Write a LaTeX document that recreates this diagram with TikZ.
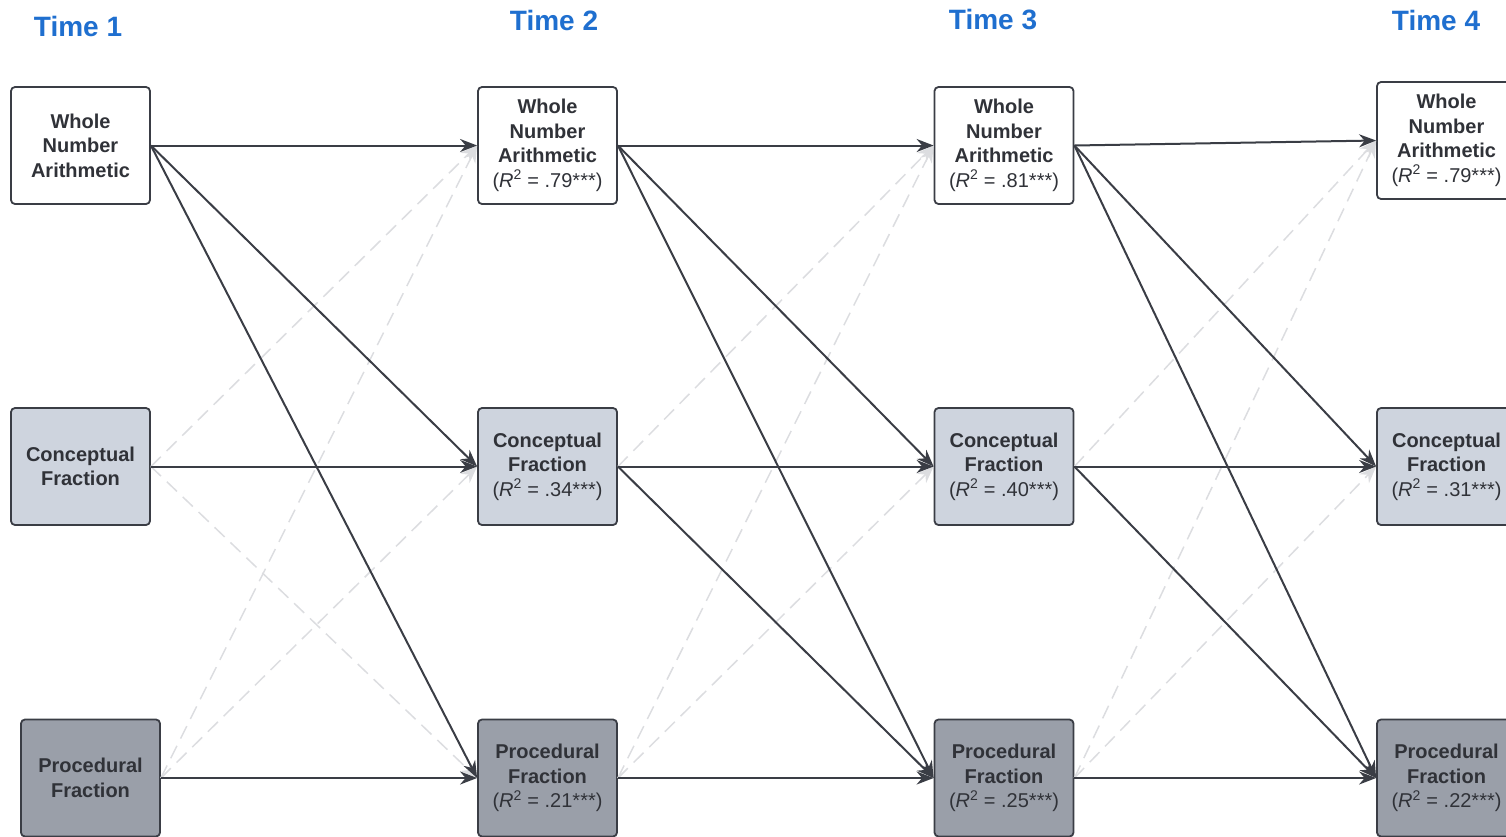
\documentclass[tikz,border=0pt]{standalone}
\usepackage{fontspec}
\setmainfont{Liberation Sans}
\usetikzlibrary{arrows.meta}
\definecolor{edgec}{HTML}{3A3D45}
\definecolor{cfill}{HTML}{CED4DE}
\definecolor{pfill}{HTML}{9A9FA9}
\definecolor{tblue}{HTML}{1F6FCF}
\definecolor{dashc}{HTML}{DCDDE0}
\definecolor{txtc}{HTML}{303238}
\newcommand{\rsq}[1]{(\textit{R}\textsuperscript{2} = .#1***)}
\begin{document}
\begin{tikzpicture}[x=1pt,y=-1pt,
  box/.style={draw=edgec, line width=1.8pt, rounded corners=4pt, minimum width=139pt,
    minimum height=117pt, inner sep=0pt, align=center, text=txtc,
    font=\fontsize{20}{24.5}\selectfont},
  wn/.style={box, fill=white},
  cf/.style={box, fill=cfill},
  pf/.style={box, fill=pfill},
  timelbl/.style={text=tblue, font=\fontsize{28}{30}\selectfont\bfseries},
  sol/.style={draw=edgec, line width=2pt, -{Stealth[length=17pt,width=13pt]}},
  dsh/.style={draw=dashc, line width=1.5pt, dash pattern=on 14pt off 8pt,
    -{Stealth[length=17pt,width=13pt]}}
]
\useasboundingbox (0,0) rectangle (1506,836);

\node[timelbl] (t1) at (78,26) {Time 1};
\node[timelbl] (t2) at (554,20) {Time 2};
\node[timelbl] (t3) at (993,20) {Time 3};
\node[timelbl] (t4) at (1436,20) {Time 4};

\node[wn] (w1) at (80.5,145.5) {\textbf{Whole}\\\textbf{Number}\\\textbf{Arithmetic}};
\node[cf] (c1) at (80.5,466.5) {\textbf{Conceptual}\\\textbf{Fraction}};
\node[pf] (p1) at (90.5,778) {\textbf{Procedural}\\\textbf{Fraction}};

\node[wn] (w2) at (547.5,145.5) {\textbf{Whole}\\\textbf{Number}\\\textbf{Arithmetic}\\\rsq{79}};
\node[cf] (c2) at (547.5,466.5) {\textbf{Conceptual}\\\textbf{Fraction}\\\rsq{34}};
\node[pf] (p2) at (547.5,778) {\textbf{Procedural}\\\textbf{Fraction}\\\rsq{21}};

\node[wn] (w3) at (1004,145.5) {\textbf{Whole}\\\textbf{Number}\\\textbf{Arithmetic}\\\rsq{81}};
\node[cf] (c3) at (1004,466.5) {\textbf{Conceptual}\\\textbf{Fraction}\\\rsq{40}};
\node[pf] (p3) at (1004,778) {\textbf{Procedural}\\\textbf{Fraction}\\\rsq{25}};

\node[wn] (w4) at (1446.5,140.5) {\textbf{Whole}\\\textbf{Number}\\\textbf{Arithmetic}\\\rsq{79}};
\node[cf] (c4) at (1446.5,466.5) {\textbf{Conceptual}\\\textbf{Fraction}\\\rsq{31}};
\node[pf] (p4) at (1446.5,778) {\textbf{Procedural}\\\textbf{Fraction}\\\rsq{22}};

% dashed (non-significant) paths
\draw[dsh] (c1.east) -- (w2.west);
\draw[dsh] (c1.east) -- (p2.west);
\draw[dsh] (p1.east) -- (w2.west);
\draw[dsh] (p1.east) -- (c2.west);
\draw[dsh] (c2.east) -- (w3.west);
\draw[dsh] (p2.east) -- (w3.west);
\draw[dsh] (p2.east) -- (c3.west);
\draw[dsh] (c3.east) -- (w4.west);
\draw[dsh] (p3.east) -- (w4.west);
\draw[dsh] (p3.east) -- (c4.west);

% solid paths
\draw[sol] (w1.east) -- (w2.west);
\draw[sol] (w1.east) -- (c2.west);
\draw[sol] (w1.east) -- (p2.west);
\draw[sol] (c1.east) -- (c2.west);
\draw[sol] (p1.east) -- (p2.west);

\draw[sol] (w2.east) -- (w3.west);
\draw[sol] (w2.east) -- (c3.west);
\draw[sol] (w2.east) -- (p3.west);
\draw[sol] (c2.east) -- (c3.west);
\draw[sol] (c2.east) -- (p3.west);
\draw[sol] (p2.east) -- (p3.west);

\draw[sol] (w3.east) -- (w4.west);
\draw[sol] (w3.east) -- (c4.west);
\draw[sol] (w3.east) -- (p4.west);
\draw[sol] (c3.east) -- (c4.west);
\draw[sol] (c3.east) -- (p4.west);
\draw[sol] (p3.east) -- (p4.west);
\end{tikzpicture}
\end{document}
